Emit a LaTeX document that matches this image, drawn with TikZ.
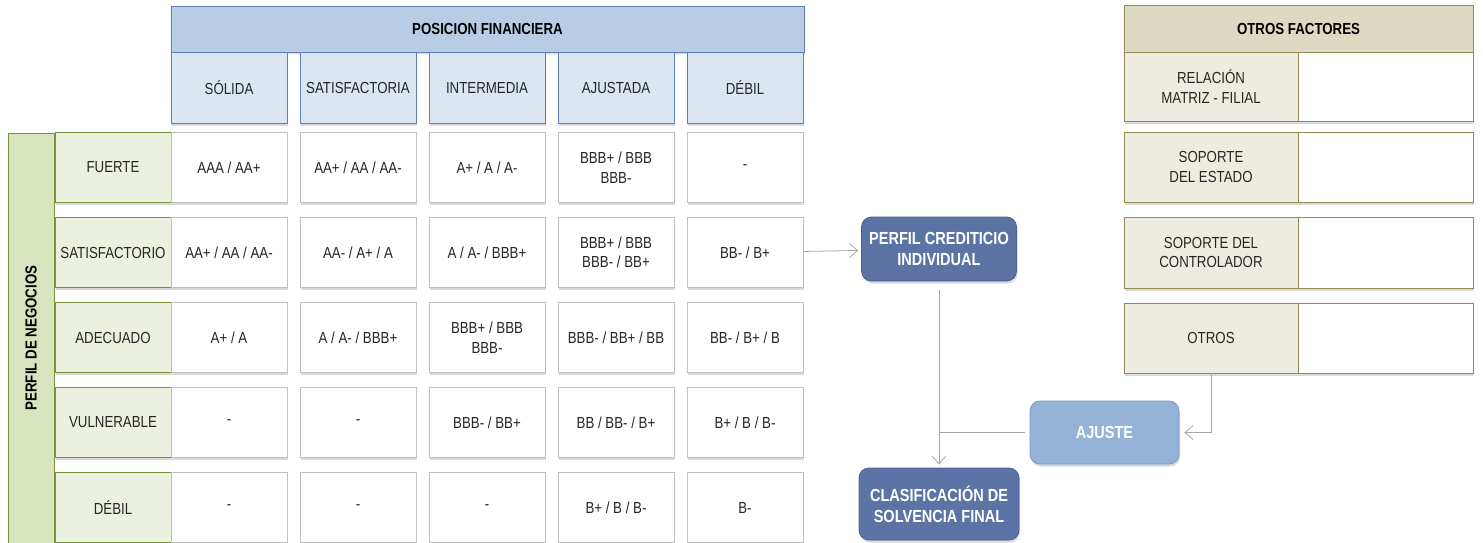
\documentclass[tikz,border=0pt]{standalone}
\usepackage{fontspec}
\setmainfont{Liberation Sans}[FakeStretch=0.83]
\usetikzlibrary{positioning,shadows,arrows.meta}
\definecolor{hdrblue}{HTML}{B8CCE4}
\definecolor{colblue}{HTML}{DCE6F1}
\definecolor{blueline}{HTML}{5B80B5}
\definecolor{greenbar}{HTML}{D7E4BD}
\definecolor{greenlab}{HTML}{EBF1DE}
\definecolor{greenline}{HTML}{77933C}
\definecolor{tanhead}{HTML}{DDD9C3}
\definecolor{tanlab}{HTML}{EEECE1}
\definecolor{tanline}{HTML}{948A54}
\definecolor{mainfill}{HTML}{5B73A5}
\definecolor{mainline}{HTML}{4A5F8C}
\definecolor{adjfill}{HTML}{95B3D7}
\definecolor{adjline}{HTML}{7A98C4}
\definecolor{gridline}{HTML}{BFBFBF}
\definecolor{linkgray}{HTML}{A6A6A6}
\begin{document}
\begin{tikzpicture}[x=1pt, y=-1pt, node distance=14.2pt and 12.2pt,
    box/.style = {shape=rectangle, align=center, inner sep=2pt, line width=0.8pt,
      text=black!85, font=\fontsize{16}{19.5}\selectfont,
      drop shadow={shadow xshift=1pt, shadow yshift=-2.5pt, opacity=0.3}},
    cell/.style = {box, draw=gridline, fill=white, minimum width=116pt, minimum height=70pt},
    pfhead/.style = {box, draw=blueline, fill=hdrblue, text=black, font=\bfseries\fontsize{16}{19.5}\selectfont},
    colhead/.style = {box, draw=blueline, fill=colblue, minimum width=116pt, minimum height=71pt},
    rowhead/.style = {box, draw=greenline, fill=greenlab, minimum width=116pt, minimum height=70pt},
    ofhead/.style = {box, draw=tanline, fill=tanhead, text=black, font=\bfseries\fontsize{16}{19.5}\selectfont},
    oflab/.style = {box, draw=tanline, fill=tanlab, minimum width=174pt},
    ofval/.style = {box, draw=tanline, fill=white, minimum width=175pt},
    main/.style = {box, rounded corners=10pt, draw=mainline, fill=mainfill, text=white,
      font=\bfseries\fontsize{17.5}{21}\selectfont},
    link/.style = {draw=linkgray, line width=0.8pt, -{Straight Barb[length=8pt,width=14pt]}}]
  \useasboundingbox (0,0) rectangle (1483,543);
  % posicion financiera
  \node[pfhead, minimum width=633pt, minimum height=46pt] (pf) at (487.5,29) {POSICION FINANCIERA};
  \node[colhead] (c1) at (229,87.5) {SÓLIDA};
  \node[colhead, right=of c1] (c2) {SATISFACTORIA};
  \node[colhead, right=of c2] (c3) {INTERMEDIA};
  \node[colhead, right=of c3] (c4) {AJUSTADA};
  \node[colhead, right=of c4] (c5) {DÉBIL};
  % perfil de negocios
  \node[box, draw=greenline, fill=greenbar, rotate=90, minimum width=410pt, minimum height=46pt,
    text=black, font=\bfseries\fontsize{16}{19.5}\selectfont] (pn) at (31,338) {PERFIL DE NEGOCIOS};
  \node[rowhead] (r1) at (113,167.5) {FUERTE};
  \node[rowhead, below=of r1] (r2) {SATISFACTORIO};
  \node[rowhead, below=of r2] (r3) {ADECUADO};
  \node[rowhead, below=of r3] (r4) {VULNERABLE};
  \node[rowhead, below=of r4] (r5) {DÉBIL};
  % matriz
  \node[cell, right=-0.8pt of r1] (f1c1) {AAA / AA+};
  \node[cell, right=of f1c1] (f1c2) {AA+ / AA / AA-};
  \node[cell, right=of f1c2] (f1c3) {A+ / A / A-};
  \node[cell, right=of f1c3] (f1c4) {BBB+ / BBB\\BBB-};
  \node[cell, right=of f1c4] (f1c5) {-};
  \node[cell, right=-0.8pt of r2] (f2c1) {AA+ / AA / AA-};
  \node[cell, right=of f2c1] (f2c2) {AA- / A+ / A};
  \node[cell, right=of f2c2] (f2c3) {A / A- / BBB+};
  \node[cell, right=of f2c3] (f2c4) {BBB+ / BBB\\BBB- / BB+};
  \node[cell, right=of f2c4] (f2c5) {BB- / B+};
  \node[cell, right=-0.8pt of r3] (f3c1) {A+ / A};
  \node[cell, right=of f3c1] (f3c2) {A / A- / BBB+};
  \node[cell, right=of f3c2] (f3c3) {BBB+ / BBB\\BBB-};
  \node[cell, right=of f3c3] (f3c4) {BBB- / BB+ / BB};
  \node[cell, right=of f3c4] (f3c5) {BB- / B+ / B};
  \node[cell, right=-0.8pt of r4] (f4c1) {-};
  \node[cell, right=of f4c1] (f4c2) {-};
  \node[cell, right=of f4c2] (f4c3) {BBB- / BB+};
  \node[cell, right=of f4c3] (f4c4) {BB / BB- / B+};
  \node[cell, right=of f4c4] (f4c5) {B+ / B / B-};
  \node[cell, right=-0.8pt of r5] (f5c1) {-};
  \node[cell, right=of f5c1] (f5c2) {-};
  \node[cell, right=of f5c2] (f5c3) {-};
  \node[cell, right=of f5c3] (f5c4) {B+ / B / B-};
  \node[cell, right=of f5c4] (f5c5) {B-};
  % otros factores
  \node[ofhead, minimum width=349pt, minimum height=47pt] (of) at (1298.5,28.5) {OTROS FACTORES};
  \node[oflab, minimum height=69pt] (o1) at (1211,86.5) {RELACIÓN\\MATRIZ - FILIAL};
  \node[ofval, minimum height=69pt, right=-0.8pt of o1] (v1) {};
  \node[oflab, minimum height=70pt] (o2) at (1211,167) {SOPORTE\\DEL ESTADO};
  \node[ofval, minimum height=70pt, right=-0.8pt of o2] (v2) {};
  \node[oflab, minimum height=71pt] (o3) at (1211,252.5) {SOPORTE DEL\\CONTROLADOR};
  \node[ofval, minimum height=71pt, right=-0.8pt of o3] (v3) {};
  \node[oflab, minimum height=70pt] (o4) at (1211,338) {OTROS};
  \node[ofval, minimum height=70pt, right=-0.8pt of o4] (v4) {};
  % resultado
  \node[main, minimum width=155pt, minimum height=64pt] (pci) at (939,249) {PERFIL CREDITICIO\\INDIVIDUAL};
  \node[main, minimum width=160pt, minimum height=72pt] (csf) at (939,504) {CLASIFICACIÓN DE\\SOLVENCIA FINAL};
  \node[main, draw=adjline, fill=adjfill, minimum width=149pt, minimum height=63pt] (aj) at (1104.5,432.5) {AJUSTE};
  \draw[link, shorten >=3pt] (f2c5) -- (pci);
  \draw[link, shorten <=9pt, shorten >=3pt] (pci) -- (csf);
  \draw[link, -, shorten <=5pt] (aj) -- (aj -| pci);
  \draw[link, shorten >=5pt] (o4) |- (aj);
\end{tikzpicture}
\end{document}
